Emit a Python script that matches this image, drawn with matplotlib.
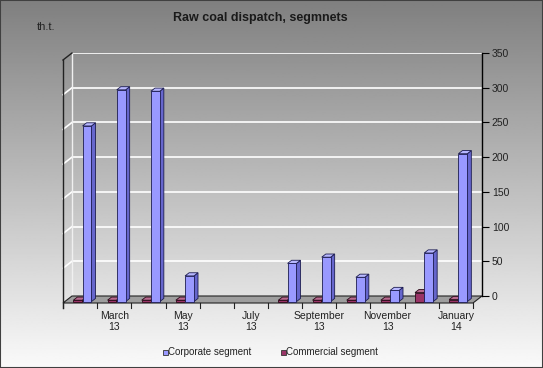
import numpy as np
import matplotlib
matplotlib.use("Agg")
import matplotlib.pyplot as plt
from matplotlib.patches import Polygon, Rectangle
from matplotlib.lines import Line2D
from matplotlib.transforms import IdentityTransform, offset_copy

plt.rcParams["font.family"] = ["Liberation Sans", "DejaVu Sans"]

# ── Data (thousand tonnes) ────────────────────────────────────────────────
months = ["February 13", "March 13", "April 13", "May 13", "June 13", "July 13",
          "August 13", "September 13", "October 13", "November 13",
          "December 13", "January 14"]
corporate = [253, 305, 303, 37, np.nan, np.nan, 55, 64, 35, 16, 70, 213]
commercial = [2, 2, 2, 2, np.nan, np.nan, 2, 2, 2, 2, 13, 3]
tick_labels = ["", "March\n13", "", "May\n13", "", "July\n13", "",
               "September\n13", "", "November\n13", "", "January\n14"]
y_ticks = [0, 50, 100, 150, 200, 250, 300, 350]

W, H, DPI = 543, 368, 100
DX, DY = 9, 7            # pixel shift of the front edge (oblique depth)

fig = plt.figure(figsize=(W / DPI, H / DPI), dpi=DPI)

# gradient background
bg = fig.add_axes([0, 0, 1, 1], zorder=-1)
grad = np.linspace(0.50, 0.98, 256).reshape(-1, 1)
bg.imshow(grad, cmap="gray", vmin=0, vmax=1, aspect="auto",
          extent=[0, 1, 0, 1], origin="upper")
bg.axis("off")

# back wall of the 3D plot
ax = fig.add_axes([72 / W, (H - 296) / H, 410 / W, 243 / H])
ax.patch.set_visible(False)
ax.set_xlim(-0.5, len(months) - 0.5)
ax.set_ylim(0, 350)
for s in ["top", "left", "bottom"]:
    ax.spines[s].set_visible(False)
ax.spines["right"].set_linewidth(1.0)
ax.yaxis.tick_right()
ax.set_yticks(y_ticks)
ax.tick_params(axis="y", length=5, width=0.8, labelsize=7.5, pad=2,
               colors="black", labelcolor="#222222")
ax.set_xticks([])

n = len(months)
xl, xr = -0.5, n - 0.5


def proj(x, v, d):
    px, py = ax.transData.transform((x, v))
    return (px - d * DX, py - d * DY)


def poly(pts, **kw):
    p = Polygon(pts, closed=True, transform=IdentityTransform(),
                clip_on=False, **kw)
    ax.add_patch(p)
    return p


def line(p0, p1, **kw):
    ax.add_line(Line2D([p0[0], p1[0]], [p0[1], p1[1]],
                       transform=IdentityTransform(), clip_on=False, **kw))


# gridlines on back wall and left wall
ax.hlines(y_ticks[1:], xl, xr, color="white", lw=1.2, zorder=0.5)
for v in y_ticks[1:-1]:
    line(proj(xl, v, 0), proj(xl, v, 1), color="white", lw=1.2, zorder=0.5)
line(proj(xl, 0, 0), proj(xl, 350, 0), color="#f0f0f0", lw=1.0, zorder=0.6)
line(proj(xl, 350, 0), proj(xl, 350, 1), color="#222222", lw=1.0, zorder=0.6)

# floor
poly([proj(xl, 0, 0), proj(xr, 0, 0), proj(xr, 0, 1), proj(xl, 0, 1)],
     facecolor="#9e9e9e", edgecolor="#222222", lw=0.8, zorder=1)

# left wall front edge
p_top = proj(xl, 350, 1)
p_bot = proj(xl, 0, 1)
line(p_top, (p_bot[0], p_bot[1] - 5), color="#222222", lw=1.0, zorder=1.2)

# category ticks on the front edge
for k in range(n + 1):
    p = proj(k - 0.5, 0, 1)
    line(p, (p[0], p[1] - 5), color="#222222", lw=0.8, zorder=1.2)

# bars
F, B = 0.8, 0.35
BW = 0.26
series = [
    (commercial, -0.25, "#993366", "#6e2248", "#b86b90", "#2a0a18", 3.0),
    (corporate, 0.02, "#9999ff", "#6666cc", "#b8b8ff", "#1c1c50", 4.0),
]
for vals, off, c_front, c_side, c_top, c_edge, z in series:
    xs = np.arange(n) + off
    h = np.nan_to_num(np.array(vals, dtype=float))
    ok = ~np.isnan(np.array(vals, dtype=float))
    tr = offset_copy(ax.transData, fig, x=-F * DX, y=-F * DY, units="dots")
    ax.bar(xs[ok], h[ok], width=BW, align="edge", color=c_front,
           edgecolor=c_edge, lw=0.6, transform=tr, clip_on=False,
           zorder=z + 0.5)
    for x0, v in zip(xs[ok], h[ok]):
        x1 = x0 + BW
        poly([proj(x1, 0, F), proj(x1, v, F), proj(x1, v, B), proj(x1, 0, B)],
             facecolor=c_side, edgecolor=c_edge, lw=0.6, zorder=z)
        poly([proj(x0, v, F), proj(x1, v, F), proj(x1, v, B), proj(x0, v, B)],
             facecolor=c_top, edgecolor=c_edge, lw=0.6, zorder=z + 0.2)

# category labels along the front edge
lab_tr = offset_copy(ax.transData, fig, x=-DX, y=-DY - 8, units="dots")
for i, lab in enumerate(tick_labels):
    if lab:
        ax.text(i, 0, lab, transform=lab_tr, ha="center", va="top",
                fontsize=7.5, linespacing=1.1, color="#222222", clip_on=False)

# titles
fig.text(260 / W, 1 - 18 / H, "Raw coal dispatch, segmnets", ha="center",
         va="center", fontsize=9, fontweight="bold", color="#1a1a1a")
fig.text(37 / W, 1 - 27 / H, "th.t.", ha="left", va="center",
         fontsize=8, color="#222222")

# legend
legend_items = [("Corporate segment", "#9999ff", 163),
                ("Commercial segment", "#993366", 281)]
for name, col, lx in legend_items:
    fig.add_artist(Rectangle((lx / W, 1 - 354.5 / H), 5 / W, 5 / H,
                             transform=fig.transFigure, facecolor=col,
                             edgecolor="#333333", lw=0.6))
    fig.text((lx + 5.5) / W, 1 - 352 / H, name, ha="left", va="center",
             fontsize=7, color="#222222")

# outer border
fig.add_artist(Rectangle((0, 0), 1, 1, transform=fig.transFigure,
                         fill=False, edgecolor="#404040", lw=1.5))

fig.savefig("out.png", dpi=DPI)
